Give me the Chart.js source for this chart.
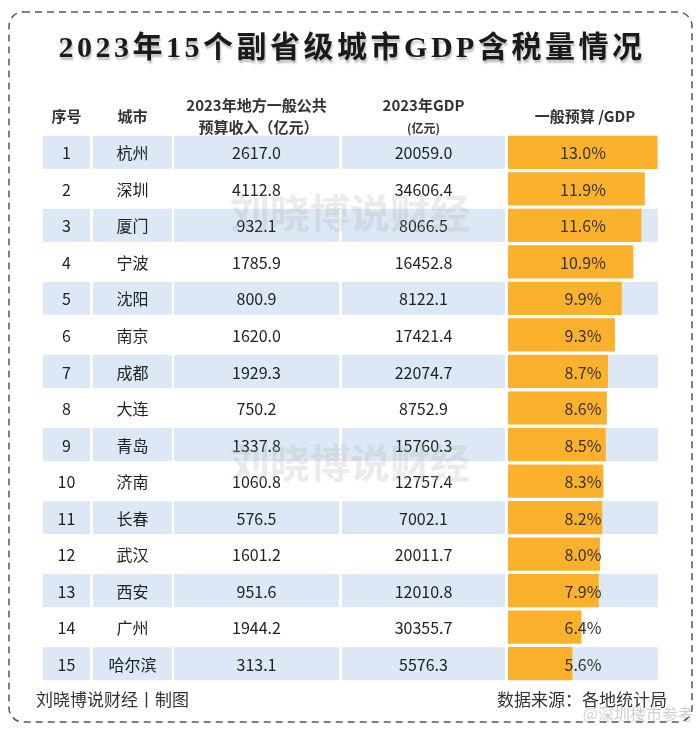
<!DOCTYPE html>
<html>
<head>
<meta charset="utf-8">
<script src="https://cdn.jsdelivr.net/npm/chart.js@4/dist/chart.umd.min.js"></script>
<style>
  body { margin: 0; background: #fff; }
  #wrap { width: 700px; height: 730px; }
</style>
</head>
<body>
<div id="wrap"><canvas id="gdpChart" width="700" height="730"></canvas></div>
<script>
// data
const ranks = ["1", "2", "3", "4", "5", "6", "7", "8", "9", "10", "11", "12", "13", "14", "15"];
const cities = ["杭州", "深圳", "厦门", "宁波", "沈阳", "南京", "成都", "大连", "青岛", "济南", "长春", "武汉", "西安", "广州", "哈尔滨"];
const revenue = ["2617.0", "4112.8", "932.1", "1785.9", "800.9", "1620.0", "1929.3", "750.2", "1337.8", "1060.8", "576.5", "1601.2", "951.6", "1944.2", "313.1"];
const gdp = ["20059.0", "34606.4", "8066.5", "16452.8", "8122.1", "17421.4", "22074.7", "8752.9", "15760.3", "12757.4", "7002.1", "20011.7", "12010.8", "30355.7", "5576.3"];
const ratio = [13.0, 11.9, 11.6, 10.9, 9.9, 9.3, 8.7, 8.6, 8.5, 8.3, 8.2, 8.0, 7.9, 6.4, 5.6];

const FONT = "'Noto Sans CJK SC', 'Noto Sans', sans-serif";
const BLUE = "#dce8f5";
const ORANGE = "#fbb12c";

// table columns: [left, right]
const cols = [[43, 90], [93, 172], [174, 339], [342, 505], [508, 658]];
const rowH = 33;

function mid(c) { return (c[0] + c[1]) / 2; }

// draws the table around the bar column
const tablePlugin = {
  id: "table",
  beforeDatasetsDraw(chart) {
    const ctx = chart.ctx;
    const y = chart.scales.y;
    ctx.save();
    ctx.fillStyle = "#fff";
    ctx.fillRect(0, 0, chart.width, chart.height);

    // dashed frame
    ctx.strokeStyle = "#555";
    ctx.lineWidth = 1.5;
    ctx.setLineDash([7, 5]);
    ctx.beginPath();
    ctx.roundRect(9, 12, 683, 710, 14);
    ctx.stroke();
    ctx.setLineDash([]);

    // title
    ctx.save();
    ctx.font = "bold 30px 'Liberation Serif', 'Noto Sans CJK SC', serif";
    ctx.letterSpacing = "3.5px";
    ctx.textAlign = "center";
    ctx.textBaseline = "middle";
    ctx.shadowColor = "rgba(140,140,140,0.55)";
    ctx.shadowOffsetX = 1;
    ctx.shadowOffsetY = 3;
    ctx.shadowBlur = 2;
    ctx.fillStyle = "#1a1a1a";
    ctx.fillText("2023年15个副省级城市GDP含税量情况", 352, 49);
    ctx.restore();

    // header
    ctx.fillStyle = "#333";
    ctx.textAlign = "center";
    ctx.textBaseline = "middle";
    ctx.font = "bold 15px " + FONT;
    ctx.fillText("序号", mid(cols[0]), 116);
    ctx.fillText("城市", mid(cols[1]), 116);
    ctx.fillText("2023年地方一般公共", mid(cols[2]), 105);
    ctx.fillText("预算收入（亿元）", mid(cols[2]) + 2, 127);
    ctx.fillText("2023年GDP", mid(cols[3]), 105);
    ctx.fillText("一般预算 /GDP", mid(cols[4]) + 2, 116);
    ctx.font = "bold 12px " + FONT;
    ctx.fillText("(亿元)", mid(cols[3]), 128);

    // row backgrounds + cells
    ranks.forEach((r, i) => {
      const cy = y.getPixelForValue(i);
      if (i % 2 === 0) {
        ctx.fillStyle = BLUE;
        cols.forEach(c => ctx.fillRect(c[0], cy - rowH / 2, c[1] - c[0], rowH));
      }
      ctx.fillStyle = "#222";
      ctx.font = "16px " + FONT;
      ctx.fillText(r, mid(cols[0]), cy + 1);
      ctx.fillText(cities[i], mid(cols[1]), cy + 1);
      ctx.fillText(revenue[i], mid(cols[2]), cy + 1);
      ctx.fillText(gdp[i], mid(cols[3]), cy + 1);
    });

    // footer
    ctx.font = "17px " + FONT;
    ctx.fillStyle = "#333";
    ctx.textAlign = "left";
    ctx.fillText("刘晓博说财经丨制图", 36, 700);
    ctx.textAlign = "right";
    ctx.fillText("数据来源：各地统计局", 667, 700);
    ctx.restore();
  },
  afterDatasetsDraw(chart) {
    const ctx = chart.ctx;
    const y = chart.scales.y;
    ctx.save();
    ctx.textAlign = "center";
    ctx.textBaseline = "middle";
    ctx.fillStyle = "#333";
    ctx.font = "16px " + FONT;
    ratio.forEach((v, i) => {
      ctx.fillText(v.toFixed(1) + "%", mid(cols[4]), y.getPixelForValue(i) + 1);
    });

    // faint watermarks
    ctx.font = "bold 40px " + FONT;
    ctx.fillStyle = "rgba(175,175,175,0.25)";
    ctx.fillText("刘晓博说财经", 350, 213);
    ctx.fillText("刘晓博说财经", 350, 463);
    ctx.font = "16px " + FONT;
    ctx.fillStyle = "rgba(150,150,150,0.45)";
    ctx.textAlign = "right";
    ctx.fillText("@深圳楼市参考", 694, 714);
    ctx.restore();
  }
};

new Chart(document.getElementById("gdpChart"), {
  type: "bar",
  data: {
    labels: cities,
    datasets: [{
      data: ratio,
      backgroundColor: ORANGE,
      borderWidth: 0,
      barPercentage: 0.91,
      categoryPercentage: 1.0
    }]
  },
  options: {
    indexAxis: "y",
    responsive: false,
    animation: false,
    layout: { padding: { left: 508, right: 42, top: 134, bottom: 48 } },
    scales: {
      x: { display: false, min: 0, max: 13.05 },
      y: { display: false }
    },
    plugins: {
      legend: { display: false },
      tooltip: { enabled: false }
    }
  },
  plugins: [tablePlugin]
});
</script>
</body>
</html>
